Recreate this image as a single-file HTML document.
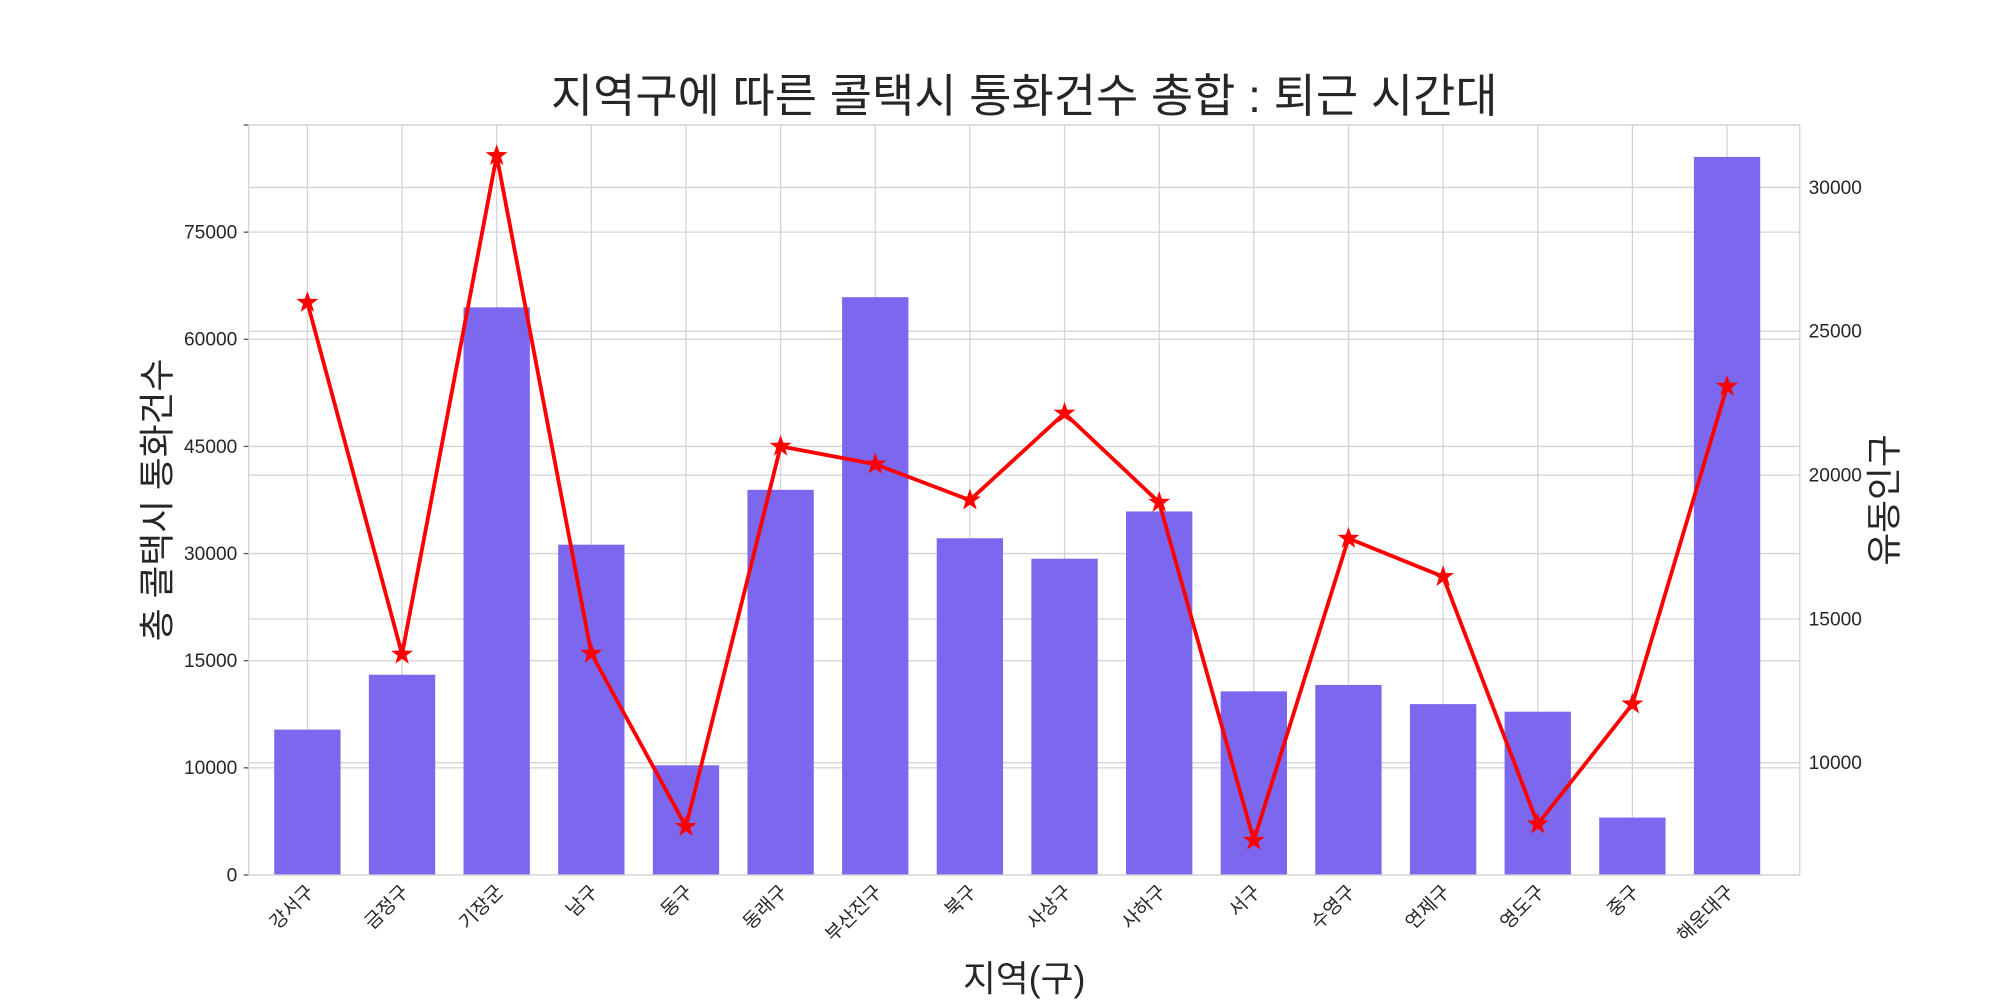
<!DOCTYPE html>
<html><head><meta charset="utf-8">
<style>
html,body{margin:0;padding:0;background:#fff;}
svg{display:block;}
svg text{font-family:"Liberation Sans","Noto Sans CJK KR",sans-serif;}
</style></head>
<body>
<svg id="chart" width="2000" height="1000" viewBox="0 0 1568 784" preserveAspectRatio="none" xmlns="http://www.w3.org/2000/svg">
<rect x="0" y="0" width="1568" height="784" fill="#fff"/>
<g id="grid"></g>
<g id="bars"></g>
<g id="line"></g>
<g id="axes"></g>
<text x="803" y="88" font-size="36" text-anchor="middle" fill="#262626">지역구에 따른 콜택시 통화건수 총합 : 퇴근 시간대</text>
<text transform="translate(133,392) rotate(-90)" font-size="28" text-anchor="middle" fill="#262626">총 콜택시 통화건수</text>
<text transform="translate(1487,392) rotate(-90)" font-size="28" text-anchor="middle" fill="#262626">유동인구</text>
<text x="803" y="777" font-size="28" text-anchor="middle" fill="#262626">지역(구)</text>
</svg>
<script>
const categories=["강서구","금정구","기장군","남구","동구","동래구","부산진구","북구","사상구","사하구","서구","수영구","연제구","영도구","중구","해운대구"];
const callValues=[1.357,1.869,5.298,3.083,1.024,3.595,5.393,3.143,2.952,3.393,1.714,1.774,1.595,1.524,0.536,6.702];
const leftTickLabels=["0","10000","15000","30000","45000","60000","75000",""];
const populationValues=[26000,13770,31100,13800,7780,21000,20380,19130,22150,19050,7300,17800,16470,7870,12040,23080];
const rightTicks=[10000,15000,20000,25000,30000];

const NS="http://www.w3.org/2000/svg";
const L=195,R=1411,T=98,B=686;
const xPos=i=>241+i*((1354-241)/(categories.length-1));
const yLeft=v=>B-v*84;
const rMin=6100,rMax=32170;
const yRight=v=>B-(v-rMin)/(rMax-rMin)*(B-T);
function mk(tag,attrs,parent){const e=document.createElementNS(NS,tag);for(const k in attrs)e.setAttribute(k,attrs[k]);parent.appendChild(e);return e;}
const grid=document.getElementById('grid'),bars=document.getElementById('bars'),line=document.getElementById('line'),axes=document.getElementById('axes');
mk('rect',{x:L,y:T,width:R-L,height:B-T,fill:'#fff'},grid);
categories.forEach((c,i)=>{const g=mk('line',{x1:xPos(i),x2:xPos(i),y1:T,y2:B,stroke:'#d3d3d3','stroke-width':1},grid);

});
leftTickLabels.forEach((t,i)=>{const y=yLeft(i);
const g=mk('line',{x1:L,x2:R,y1:y,y2:y,stroke:'#d3d3d3','stroke-width':1},grid);


mk('line',{x1:L-4,x2:L,y1:y,y2:y,stroke:'#555','stroke-width':1},axes);
const tx=mk('text',{x:L-9,y:y+5,'font-size':15,'text-anchor':'end',fill:'#262626'},axes);tx.textContent=t;

});
rightTicks.forEach(v=>{const y=yRight(v);
const g=mk('line',{x1:L,x2:R,y1:y,y2:y,stroke:'#d3d3d3','stroke-width':1},grid);


const tx=mk('text',{x:R+7,y:y+5,'font-size':15,fill:'#262626'},axes);tx.textContent=v;

});
mk('rect',{x:L,y:T,width:R-L,height:B-T,fill:'none',stroke:'#d3d3d3','stroke-width':1},axes);
categories.forEach((c,i)=>{const b=mk('rect',{x:xPos(i)-26,y:yLeft(callValues[i]),width:52,height:B-yLeft(callValues[i]),fill:'#7b68ee'},bars);


const tx=mk('text',{transform:`translate(${xPos(i)+6},${B+14}) rotate(-45)`,'font-size':15,'text-anchor':'end',fill:'#262626'},axes);tx.textContent=c;

});
const pts=populationValues.map((v,i)=>[xPos(i),yRight(v)]);
const pl=mk('polyline',{points:pts.map(p=>p.join(',')).join(' '),fill:'none',stroke:'#f00','stroke-width':3,'stroke-linejoin':'round'},line);


function star(cx,cy,r){let s=[];for(let k=0;k<10;k++){const a=-Math.PI/2+k*Math.PI/5;const rr=k%2?r*0.4:r;s.push((cx+rr*Math.cos(a)).toFixed(1)+','+(cy+rr*Math.sin(a)).toFixed(1));}return s.join(' ');}
pts.forEach((p,i)=>{const s=mk('polygon',{points:star(p[0],p[1],9),fill:'#f00'},line);

});
</script>
</body></html>
